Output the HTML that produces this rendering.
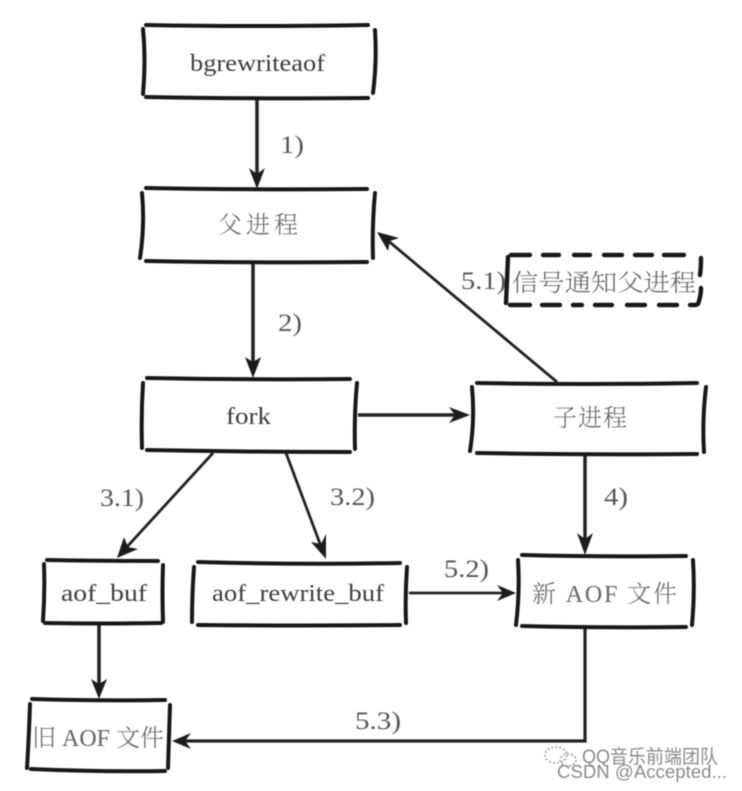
<!DOCTYPE html>
<html><head><meta charset="utf-8"><style>
html,body{margin:0;padding:0;background:#fff;width:742px;height:791px;overflow:hidden}
svg{display:block;filter:blur(.5px)}
.b{fill:none;stroke:#171717;stroke-width:4;stroke-linecap:round}
.c{fill:none;stroke:#222;stroke-width:3.5}
.t{font-family:"Liberation Serif","Noto Serif CJK SC",serif;fill:#3c3c3c;font-size:24px}
.z{font-family:"Liberation Serif","Noto Serif CJK SC",serif;fill:#666;font-size:24px;font-weight:300}
.n{font-family:"Liberation Serif",serif;fill:#555;font-size:25px}
.a{fill:#1c1c1c}
.w{font-family:"Liberation Sans","Noto Sans CJK SC",sans-serif;fill:#8a8a8a}
</style></head><body>
<svg width="742" height="791" viewBox="0 0 742 791" xmlns="http://www.w3.org/2000/svg">
<!-- connectors -->
<path class="c" d="M257 98V178M253 262V368M358 415H458M585 453V545M99 624V688"/>
<path class="c" style="stroke-width:2.8" d="M557 382L386 239M213 453L125 549M286 453L322 549M409 593H504"/>
<path class="c" style="stroke-width:3.2" d="M585 627V741H185"/>
<!-- arrowheads -->
<path class="a" d="M257 189L249 168L257 174L265 168Z"/>
<path class="a" d="M253 378L245 357L253 362L261 357Z"/>
<path class="a" d="M470 415L449 407L455 415L449 423Z"/>
<path class="a" d="M377 232L399 238L390 241L388 251Z"/>
<path class="a" d="M585 555L577 533L585 539L593 533Z"/>
<path class="a" d="M117 558L124 537L128 547L138 549Z"/>
<path class="a" d="M326 559L311 542L321 544L326 534Z"/>
<path class="a" d="M516 593L497 585L503 593L497 601Z"/>
<path class="a" d="M99 699L91 679L99 684L107 679Z"/>
<path class="a" d="M172 741L191 733L185 741L191 749Z"/>
<!-- box 1 -->
<path class="b" d="M146 25Q250 27 368 25M146 97Q250 99 368 98M143 29Q146 60 143 94M375 30Q377 62 373 93"/>
<!-- box 2 -->
<path class="b" d="M146 188Q250 190 367 189M146 261Q250 263 367 262M142 193Q145 225 140 258M375 193Q372 225 373 258"/>
<!-- fork -->
<path class="b" d="M147 378Q250 380 350 379M147 450Q250 452 350 452M143 383Q141 415 142 448M357 383Q354 415 355 449"/>
<!-- child -->
<path class="b" d="M477 383Q590 385 697 383M477 453Q590 455 697 454M472 387Q475 420 470 451M706 387Q702 420 704 452"/>
<!-- dashed -->
<path class="b" style="stroke-width:4.4" d="M511 255H530M543 255H559M574 255H590M604 255H622M635 255H652M664 255H684M510 305H530M542 305H560M573 305H582M595 305H612M627 305H645M659 305H677M690 305H696M508 257Q507 280 506 303M701 258Q701 268 700 275M701 288Q701 296 698 304"/>
<!-- new AOF -->
<path class="b" d="M522 555Q600 557 686 556M522 626Q600 628 686 627M518 560Q520 592 516 625M693 560Q695 592 692 625"/>
<!-- aof_buf -->
<path class="b" d="M47 560Q100 561 158 561M45 623Q100 624 161 623M44 564Q45 592 43 621M163 565Q162 592 163 622"/>
<!-- aof_rewrite -->
<path class="b" d="M198 562Q300 565 400 563M198 625Q300 626 400 625M194 567Q192 595 192 622M407 567Q405 595 406 623"/>
<!-- old AOF -->
<path class="b" d="M32 699Q100 701 165 700M31 769Q100 772 165 771M30 704Q29 735 27 768M170 705Q169 735 168 768"/>
<!-- labels -->
<text class="t" x="190" y="71" textLength="135" lengthAdjust="spacingAndGlyphs">bgrewriteaof</text>
<text class="z" x="218" y="233" textLength="80" lengthAdjust="spacing">父进程</text>
<text class="t" x="226" y="424" textLength="45" lengthAdjust="spacingAndGlyphs">fork</text>
<text class="z" x="553" y="426" textLength="74" lengthAdjust="spacing">子进程</text>
<text class="z" x="512" y="291" textLength="184" lengthAdjust="spacingAndGlyphs">信号通知父进程</text>
<text class="t" x="61" y="601" textLength="86" lengthAdjust="spacingAndGlyphs">aof_buf</text>
<text class="t" x="212" y="601" textLength="172" lengthAdjust="spacingAndGlyphs">aof_rewrite_buf</text>
<text class="z" x="532" y="602" textLength="145" lengthAdjust="spacing">新 AOF 文件</text>
<text class="z" x="32" y="746" textLength="132" lengthAdjust="spacing">旧 AOF 文件</text>
<text class="n" x="280" y="153" textLength="24" lengthAdjust="spacingAndGlyphs">1)</text>
<text class="n" x="278" y="331" textLength="24" lengthAdjust="spacingAndGlyphs">2)</text>
<text class="n" x="461" y="289" textLength="45" lengthAdjust="spacingAndGlyphs">5.1)</text>
<text class="n" x="100" y="506" textLength="44" lengthAdjust="spacingAndGlyphs">3.1)</text>
<text class="n" x="330" y="505" textLength="45" lengthAdjust="spacingAndGlyphs">3.2)</text>
<text class="n" x="604" y="505" textLength="24" lengthAdjust="spacingAndGlyphs">4)</text>
<text class="n" x="444" y="577" textLength="45" lengthAdjust="spacingAndGlyphs">5.2)</text>
<text class="n" x="355" y="729" textLength="46" lengthAdjust="spacingAndGlyphs">5.3)</text>
<!-- watermark -->
<ellipse cx="556" cy="755" rx="11" ry="8" fill="none" stroke="#aaa" stroke-width="1.8" stroke-dasharray="2 2"/>
<ellipse cx="568" cy="760" rx="8" ry="6" fill="none" stroke="#aaa" stroke-width="1.8" stroke-dasharray="2 2"/>
<text class="w" x="582" y="763" font-size="19" textLength="136" lengthAdjust="spacingAndGlyphs">QQ音乐前端团队</text>
<text class="w" x="557" y="778" font-size="18" textLength="170" lengthAdjust="spacingAndGlyphs">CSDN @Accepted...</text>
</svg>
</body></html>
